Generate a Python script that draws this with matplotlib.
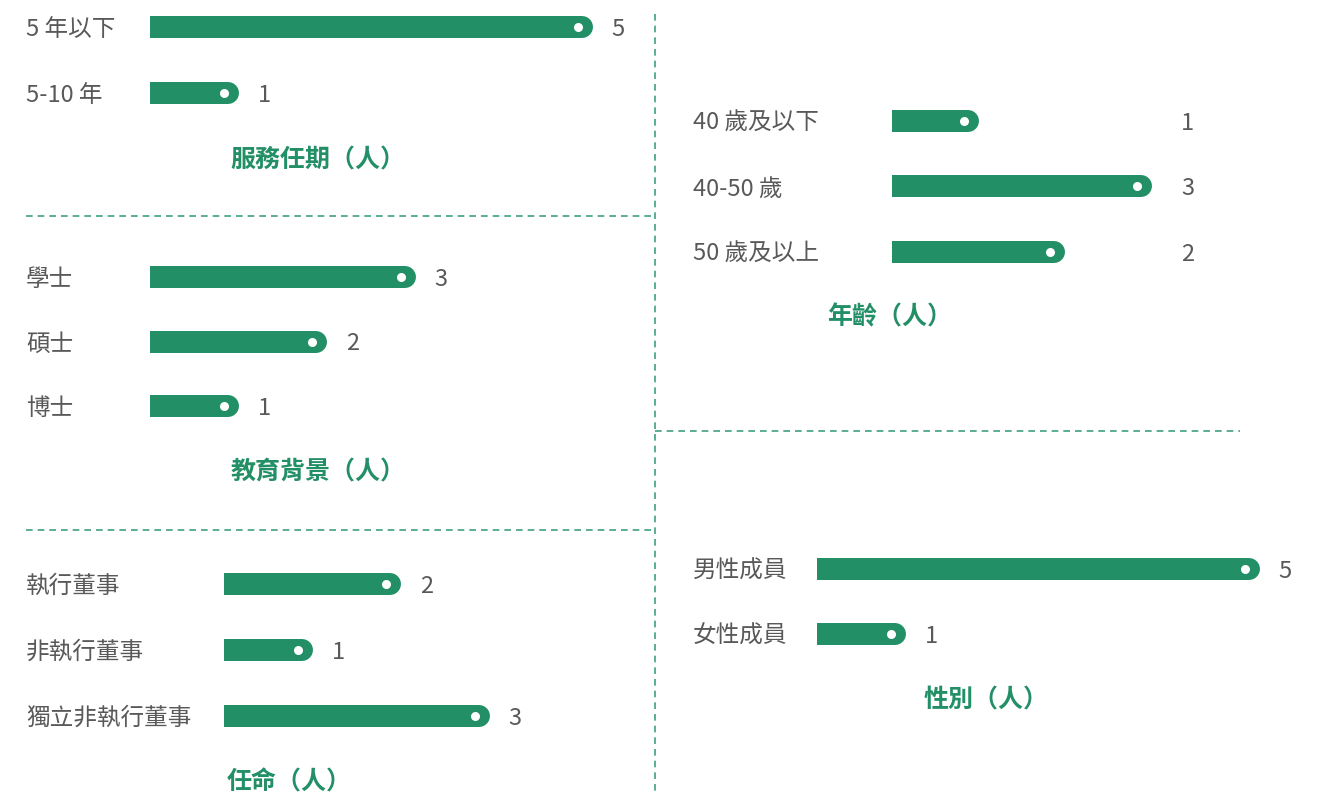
import matplotlib
matplotlib.use('Agg')
import matplotlib.pyplot as plt
from matplotlib.transforms import offset_copy, blended_transform_factory

plt.rcParams['font.family'] = ['Noto Sans CJK TC', 'DejaVu Sans']

# data
tenure_labels = ['5 年以下', '5-10 年']
tenure_values = [5, 1]
edu_labels = ['學士', '碩士', '博士']
edu_values = [3, 2, 1]
role_labels = ['執行董事', '非執行董事', '獨立非執行董事']
role_values = [2, 1, 3]
age_labels = ['40 歲及以下', '40-50 歲', '50 歲及以上']
age_values = [1, 3, 2]
gender_labels = ['男性成員', '女性成員']
gender_values = [5, 1]

W, H = 1325, 795
GREEN = '#228f66'
GREY = '#595959'
DASH = '#3f9f7c'
BAR_H = 22       # bar thickness, pixels
FS = 17

fig = plt.figure(figsize=(W / 100, H / 100), dpi=100)

# background axes in pixel coords for the dividers and titles
bg = fig.add_axes([0, 0, 1, 1])
bg.set_xlim(0, W)
bg.set_ylim(H, 0)
bg.set_axis_off()
dash_kw = dict(color=DASH, lw=1.2, linestyle=(0, (4, 3)))
bg.plot([655, 655], [14, H], **dash_kw)
bg.plot([26, 655], [216, 216], **dash_kw)
bg.plot([26, 655], [530, 530], **dash_kw)
bg.plot([655, 1240], [431, 431], **dash_kw)


def panel(labels, values, x0, y0, step, label_x, title, title_xy,
          value_x=None, unit=88.5):
    n = len(values)
    width = 6 * unit
    top = y0 - step / 2
    height = n * step
    ax = fig.add_axes([x0 / W, 1 - (top + height) / H, width / W, height / H])
    ax.set_xlim(0, 6)
    ax.set_ylim(n - 0.5, -0.5)
    ax.set_axis_off()

    cap = offset_copy(ax.transData, fig=fig, x=-BAR_H / 2, y=0, units='dots')
    dot = offset_copy(ax.transData, fig=fig, x=-15, y=0, units='dots')
    lab_tr = blended_transform_factory(fig.transFigure, ax.transData)
    for i, (lab, v) in enumerate(zip(labels, values)):
        ax.plot([0, v], [i, i], color=GREEN, lw=BAR_H * 0.72,
                solid_capstyle='round', transform=cap)
        ax.plot([v], [i], 'o', color='white', ms=6.5, mew=0, transform=dot)
        ax.annotate(lab, (label_x / W, i), xycoords=lab_tr, xytext=(0, -2.5),
                    textcoords='offset pixels', ha='left', va='center',
                    fontsize=FS, color=GREY)
        if value_x is None:
            ax.annotate(str(v), (v, i), xytext=(19, -2.5), textcoords='offset pixels',
                        ha='left', va='center', fontsize=FS, color=GREY)
        else:
            ax.annotate(str(v), (value_x / W, i), xycoords=lab_tr, xytext=(0, -2.5),
                        textcoords='offset pixels', ha='left', va='center',
                        fontsize=FS, color=GREY)
    bg.text(title_xy[0], title_xy[1] + 3, title, ha='center', va='center',
            fontsize=18, color=GREEN, fontweight='bold')


panel(tenure_labels, tenure_values, 150, 27, 66, 26, '服務任期（人）', (318, 157))
panel(edu_labels, edu_values, 150, 277, 64.5, 26, '教育背景（人）', (318, 470))
panel(role_labels, role_values, 224, 584, 66, 26, '任命（人）', (289, 779))
panel(age_labels, age_values, 892, 121, 65.5, 693, '年齡（人）', (890, 314),
      value_x=1181, unit=86.5)
panel(gender_labels, gender_values, 817, 569, 65, 693, '性別（人）', (986, 697))

fig.savefig('out.png', dpi=100)
